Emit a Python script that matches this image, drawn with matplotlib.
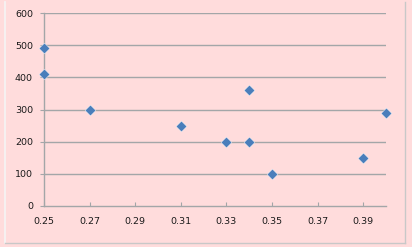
import matplotlib
matplotlib.use("Agg")
import matplotlib.pyplot as plt

# data
x_vals = [0.25, 0.25, 0.27, 0.31, 0.33, 0.34, 0.34, 0.35, 0.39, 0.40]
y_vals = [490, 410, 300, 250, 200, 360, 200, 100, 150, 290]
x_ticks = [0.25, 0.27, 0.29, 0.31, 0.33, 0.35, 0.37, 0.39]
y_ticks = [0, 100, 200, 300, 400, 500, 600]

bg = "#FFDCDC"
grid_col = "#A3A6A8"
fig = plt.figure(figsize=(4.12, 2.47), dpi=100, facecolor=bg)
ax = fig.add_axes([0.107, 0.166, 0.830, 0.781])
ax.set_facecolor(bg)

# gridlines
for y in y_ticks[1:]:
    ax.axhline(y, color=grid_col, lw=1.0, zorder=1)

ax.scatter(x_vals, y_vals, marker="D", s=30, color="#4A7EBB",
           edgecolors="white", linewidths=0.3, zorder=3, clip_on=False)

ax.set_xlim(0.25, 0.40)
ax.set_ylim(0, 600)
ax.set_xticks(x_ticks)
ax.set_yticks(y_ticks)
ax.set_xticklabels([f"{t:.2f}" for t in x_ticks])
ax.set_yticklabels([str(t) for t in y_ticks])

for s in ["top", "right"]:
    ax.spines[s].set_visible(False)
for s in ["left", "bottom"]:
    ax.spines[s].set_color(grid_col)
    ax.spines[s].set_linewidth(1.0)

ax.tick_params(axis="both", labelsize=6.8, colors=grid_col,
               labelcolor="#1A1A1A", length=3, width=0.8)
ax.tick_params(axis="x", direction="in", pad=8)
ax.tick_params(axis="y", direction="out", pad=5)

# outer chart frame
fig.add_artist(plt.Line2D([0.012, 0.012], [0.015, 0.99], color="#F5F5F5", lw=1.2))
fig.add_artist(plt.Line2D([0.984, 0.984], [0.015, 0.99], color="#C8C8C8", lw=1))
fig.add_artist(plt.Line2D([0.012, 0.984], [0.018, 0.018], color="#C8C8C8", lw=1))

fig.savefig("out.png", dpi=100, facecolor=bg)
